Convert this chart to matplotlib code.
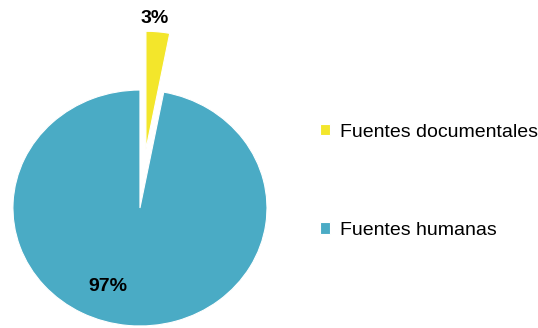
import matplotlib.pyplot as plt

# Fuentes consultadas
labels = ['Fuentes documentales', 'Fuentes humanas']
values = [3, 97]
colors = ['#F3E62B', '#4AABC5']
explode = [0.5, 0]

plt.rcParams['font.family'] = ['Liberation Sans', 'DejaVu Sans']

fig = plt.figure(figsize=(5.38, 3.28), dpi=100)
ax = fig.add_axes([0, 0, 1, 1])

wedges, _ = ax.pie(values, colors=colors, explode=explode, startangle=90,
                   counterclock=False,
                   wedgeprops=dict(edgecolor='white', linewidth=0.8))

# slightly squashed pie, placed on the left
ax.set_aspect('auto')
ax.set_xlim(-1.102, 3.134)
ax.set_ylim(-1.017, 1.763)
ax.axis('off')

total = sum(values)
pct = [f'{round(v / total * 100)}%' for v in values]
ax.text(0.118, 1.61, pct[0], ha='center', va='center',
        fontsize=14, fontweight='bold')
ax.text(-0.252, -0.669, pct[1], ha='center', va='center',
        fontsize=14, fontweight='bold')

fig.legend(wedges, labels, loc='upper left', bbox_to_anchor=(0.595, 0.623),
           frameon=False, fontsize=14, handlelength=0.52, handleheight=0.52,
           handletextpad=0.52, labelspacing=4.17, borderpad=0, borderaxespad=0)

fig.savefig('out.png', dpi=100)
